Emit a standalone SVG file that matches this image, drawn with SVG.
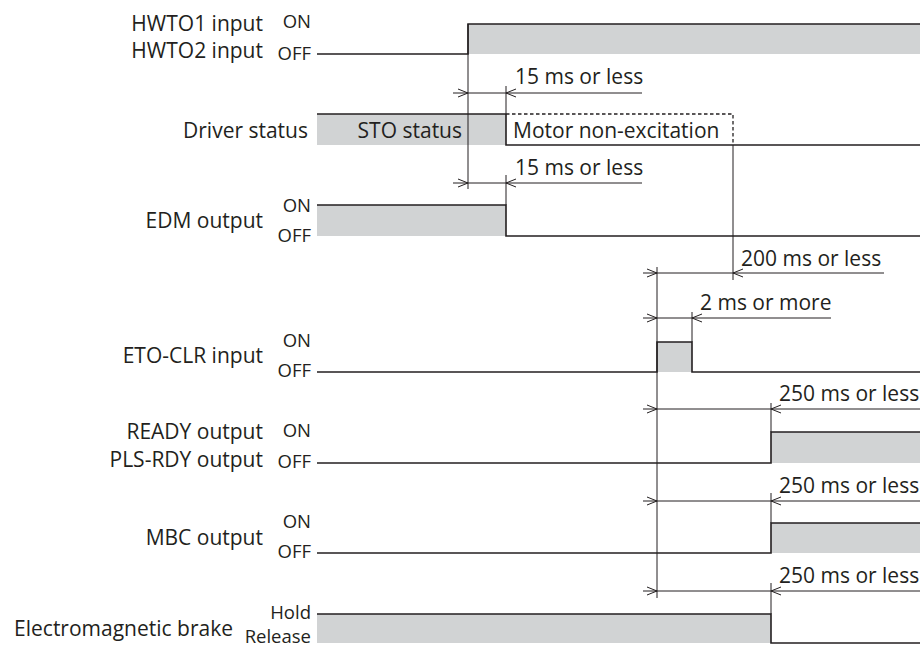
<svg xmlns="http://www.w3.org/2000/svg" xmlns:xlink="http://www.w3.org/1999/xlink" width="920" height="648" viewBox="0 0 920 648">
<style>
text{font-family:"Open Sans","Liberation Sans",sans-serif;fill:#231f20}
.lb{font-size:21px;text-anchor:end}
.st{font-size:18.5px;text-anchor:end}
.dm{font-size:21px}
.sig{fill:none;stroke:#231f20;stroke-width:1.6}
.g{fill:#d1d3d4}
.dl{fill:none;stroke:#231f20;stroke-width:1}
.ds{fill:none;stroke:#231f20;stroke-width:1.3;stroke-dasharray:3.5,2.5}
</style>
<defs>
<path id="ar" d="M-10,-4 L0,0 L-10,4" fill="none" stroke="#231f20" stroke-width="1"/>
<path id="al" d="M10,-4 L0,0 L10,4" fill="none" stroke="#231f20" stroke-width="1"/>
</defs>
<rect width="920" height="648" fill="#fff"/>

<g id="hwto">
<rect class="g" x="468" y="24" width="452" height="30"/>
<polyline class="sig" points="317,54 468,54 468,24 920,24"/>
<text class="lb" x="263" y="31">HWTO1 input</text>
<text class="lb" x="263" y="58">HWTO2 input</text>
<text class="st" x="311" y="28">ON</text>
<text class="st" x="311" y="60">OFF</text>
</g>

<g id="driver">
<rect class="g" x="317" y="114" width="189" height="31"/>
<polyline class="sig" points="317,114 506,114"/>
<polyline class="sig" points="506,114 506,145 920,145"/>
<polyline class="ds" points="506,114 733,114 733,145"/>
<text class="lb" x="308" y="138">Driver status</text>
<text class="lb" x="462" y="138">STO status</text>
<text class="dm" x="513" y="138">Motor non-excitation</text>
</g>

<g id="edm">
<rect class="g" x="317" y="205" width="189" height="31"/>
<polyline class="sig" points="317,205 506,205 506,236 920,236"/>
<text class="lb" x="263" y="228">EDM output</text>
<text class="st" x="311" y="212">ON</text>
<text class="st" x="311" y="242">OFF</text>
</g>

<g id="etoclr">
<rect class="g" x="657" y="342" width="35" height="30"/>
<polyline class="sig" points="317,372 657,372 657,342 692,342 692,372 920,372"/>
<text class="lb" x="263" y="363">ETO-CLR input</text>
<text class="st" x="311" y="347">ON</text>
<text class="st" x="311" y="377">OFF</text>
</g>

<g id="ready">
<rect class="g" x="771" y="432" width="149" height="31"/>
<polyline class="sig" points="317,463 771,463 771,432 920,432"/>
<text class="lb" x="263" y="439">READY output</text>
<text class="lb" x="263" y="467">PLS-RDY output</text>
<text class="st" x="311" y="437">ON</text>
<text class="st" x="311" y="468">OFF</text>
</g>

<g id="mbc">
<rect class="g" x="771" y="523" width="149" height="30"/>
<polyline class="sig" points="317,553 771,553 771,523 920,523"/>
<text class="lb" x="263" y="545">MBC output</text>
<text class="st" x="311" y="528">ON</text>
<text class="st" x="311" y="558">OFF</text>
</g>

<g id="brake">
<rect class="g" x="317" y="614" width="454" height="29"/>
<polyline class="sig" points="317,614 771,614 771,643 920,643"/>
<text class="lb" x="233" y="636">Electromagnetic brake</text>
<text class="st" x="311" y="619">Hold</text>
<text class="st" x="311" y="643">Release</text>
</g>

<g id="connectors">
<line class="dl" x1="468" y1="24" x2="468" y2="189"/>
<line class="dl" x1="506" y1="86" x2="506" y2="114"/>
<line class="dl" x1="506" y1="175" x2="506" y2="205"/>
<line class="dl" x1="733" y1="145" x2="733" y2="280"/>
<line class="dl" x1="657" y1="267" x2="657" y2="598"/>
<line class="dl" x1="692" y1="312" x2="692" y2="342"/>
<line class="dl" x1="771" y1="403" x2="771" y2="432"/>
<line class="dl" x1="771" y1="493" x2="771" y2="523"/>
<line class="dl" x1="771" y1="583" x2="771" y2="614"/>

<line class="dl" x1="453" y1="93" x2="642" y2="93"/>
<use xlink:href="#ar" x="468" y="93"/><use xlink:href="#al" x="506" y="93"/>
<line class="dl" x1="453" y1="183" x2="642" y2="183"/>
<use xlink:href="#ar" x="468" y="183"/><use xlink:href="#al" x="506" y="183"/>
<line class="dl" x1="643" y1="273" x2="884" y2="273"/>
<use xlink:href="#ar" x="657" y="273"/><use xlink:href="#al" x="733" y="273"/>
<line class="dl" x1="643" y1="318" x2="831" y2="318"/>
<use xlink:href="#ar" x="657" y="318"/><use xlink:href="#al" x="692" y="318"/>
<line class="dl" x1="643" y1="409" x2="920" y2="409"/>
<use xlink:href="#ar" x="657" y="409"/><use xlink:href="#al" x="771" y="409"/>
<line class="dl" x1="643" y1="501" x2="920" y2="501"/>
<use xlink:href="#ar" x="657" y="501"/><use xlink:href="#al" x="771" y="501"/>
<line class="dl" x1="643" y1="591" x2="920" y2="591"/>
<use xlink:href="#ar" x="657" y="591"/><use xlink:href="#al" x="771" y="591"/>

<text class="dm" x="515" y="84">15 ms or less</text>
<text class="dm" x="515" y="175">15 ms or less</text>
<text class="dm" x="741" y="266">200 ms or less</text>
<text class="dm" x="700" y="310">2 ms or more</text>
<text class="dm" x="779" y="401">250 ms or less</text>
<text class="dm" x="779" y="493">250 ms or less</text>
<text class="dm" x="779" y="583">250 ms or less</text>
</g>
</svg>
